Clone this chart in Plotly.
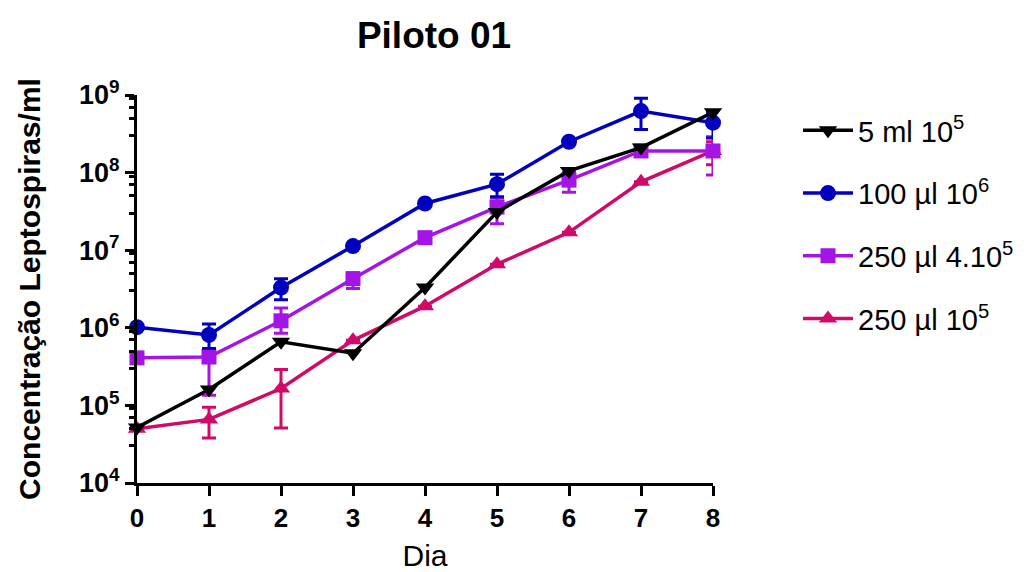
import plotly.graph_objects as go

days = [0, 1, 2, 3, 4, 5, 6, 7, 8]

names = ["5 ml 10<sup>5</sup>", "100 µl 10<sup>6</sup>", "250 µl 4.10<sup>5</sup>", "250 µl 10<sup>5</sup>"]

black_y = [5.2e4, 1.6e5, 6.6e5, 4.7e5, 3.3e6, 3.1e7, 1.05e8, 2.1e8, 6.0e8]

blue_y = [1.02e6, 8.1e5, 3.3e6, 1.13e7, 4.0e7, 7.1e7, 2.5e8, 6.2e8, 4.4e8]
blue_hi = [1.02e6, 1.12e6, 4.3e6, 1.13e7, 4.0e7, 9.5e7, 2.5e8, 9.1e8, 6.0e8]
blue_lo = [1.02e6, 5.4e5, 2.3e6, 1.13e7, 4.0e7, 4.9e7, 2.5e8, 3.6e8, 2.8e8]

purple_y = [4.1e5, 4.2e5, 1.23e6, 4.3e6, 1.45e7, 3.6e7, 8.0e7, 1.9e8, 1.9e8]
purple_hi = [4.1e5, 4.6e5, 1.8e6, 5.1e6, 1.45e7, 4.7e7, 1.0e8, 1.9e8, 2.9e8]
purple_lo = [4.1e5, 1.35e5, 8.5e5, 3.2e6, 1.45e7, 2.2e7, 5.6e7, 1.9e8, 9.3e7]

crimson_y = [5.0e4, 6.6e4, 1.65e5, 6.9e5, 1.9e6, 6.6e6, 1.7e7, 7.6e7, 1.9e8]
crimson_hi = [5.0e4, 9.5e4, 2.9e5, 6.9e5, 1.9e6, 6.6e6, 1.7e7, 7.6e7, 2.5e8]
crimson_lo = [5.0e4, 3.8e4, 5.1e4, 6.9e5, 1.9e6, 6.6e6, 1.7e7, 7.6e7, 1.26e8]

y_major = [1e4, 1e5, 1e6, 1e7, 1e8, 1e9]
y_major_text = ["10<sup>4</sup>", "10<sup>5</sup>", "10<sup>6</sup>", "10<sup>7</sup>", "10<sup>8</sup>", "10<sup>9</sup>"]
y_minor = [m * 10 ** e for e in range(4, 9) for m in (3, 5, 7, 9)]

BLACK = "#000000"
BLUE = "#0000BE"
PURPLE = "#A514E6"
CRIMSON = "#D00A68"

FONT = "Liberation Sans"


def err(y, hi, lo):
    return dict(type="data", symmetric=False,
                array=[h - v for h, v in zip(hi, y)],
                arrayminus=[v - l for v, l in zip(y, lo)],
                thickness=3, width=7)


fig = go.Figure()

series = [
    (names[3], crimson_y, crimson_hi, crimson_lo, CRIMSON, "triangle-up", 4),
    (names[2], purple_y, purple_hi, purple_lo, PURPLE, "square", 3),
    (names[1], blue_y, blue_hi, blue_lo, BLUE, "circle", 2),
    (names[0], black_y, None, None, BLACK, "triangle-down", 1),
]

for name, y, hi, lo, color, sym, rank in series:
    kw = {}
    if hi is not None:
        e = err(y, hi, lo)
        e["color"] = color
        kw["error_y"] = e
    fig.add_trace(go.Scatter(
        x=days, y=y, name=name, mode="lines+markers",
        line=dict(color=color, width=3.5),
        marker=dict(color=color, symbol=sym, size=16 if sym != "square" else 15),
        cliponaxis=False, legendgroup=name, legendrank=rank, **kw))

fig.update_layout(
    width=1035, height=572,
    margin=dict(l=137, r=322, t=95, b=89, autoexpand=False),
    paper_bgcolor="white", plot_bgcolor="white",
    font=dict(family=FONT, color="black"),
    title=dict(text="Piloto 01", xref="container", x=434 / 1035, xanchor="center",
               yref="container", y=1 - 35 / 572, yanchor="middle",
               font=dict(size=37, family=FONT, weight="bold", color="black")),
    legend=dict(x=(798 - 137) / 576, xanchor="left", y=(483 - 105) / 388, yanchor="top",
                font=dict(size=29, family=FONT, color="black"),
                itemwidth=50,
                tracegroupgap=22, bgcolor="rgba(0,0,0,0)"),
    showlegend=True,
)

fig.update_xaxes(
    range=[0, 8], tickvals=days, ticktext=[str(d) for d in days],
    showline=True, linewidth=3, linecolor="black",
    ticks="outside", ticklen=10, tickwidth=3, tickcolor="black",
    showgrid=False, zeroline=False, automargin=False,
    tickfont=dict(size=26, family=FONT, weight="bold", color="black"),
    title=dict(text="Dia", font=dict(size=30, family=FONT, color="black"), standoff=18),
)

fig.update_yaxes(
    type="log", range=[4, 9], tickvals=y_major, ticktext=y_major_text,
    showline=True, linewidth=3, linecolor="black",
    ticks="outside", ticklen=9, tickwidth=3, tickcolor="black",
    minor=dict(tickvals=y_minor, ticks="outside", ticklen=5, tickwidth=2.5, tickcolor="black"),
    showgrid=False, zeroline=False, automargin=False,
    tickfont=dict(size=27, family=FONT, weight="bold", color="black"),
    title=dict(text="Concentração Leptospiras/ml",
               font=dict(size=30, family=FONT, weight="bold", color="black"), standoff=30),
)

fig.write_html("out.html")
